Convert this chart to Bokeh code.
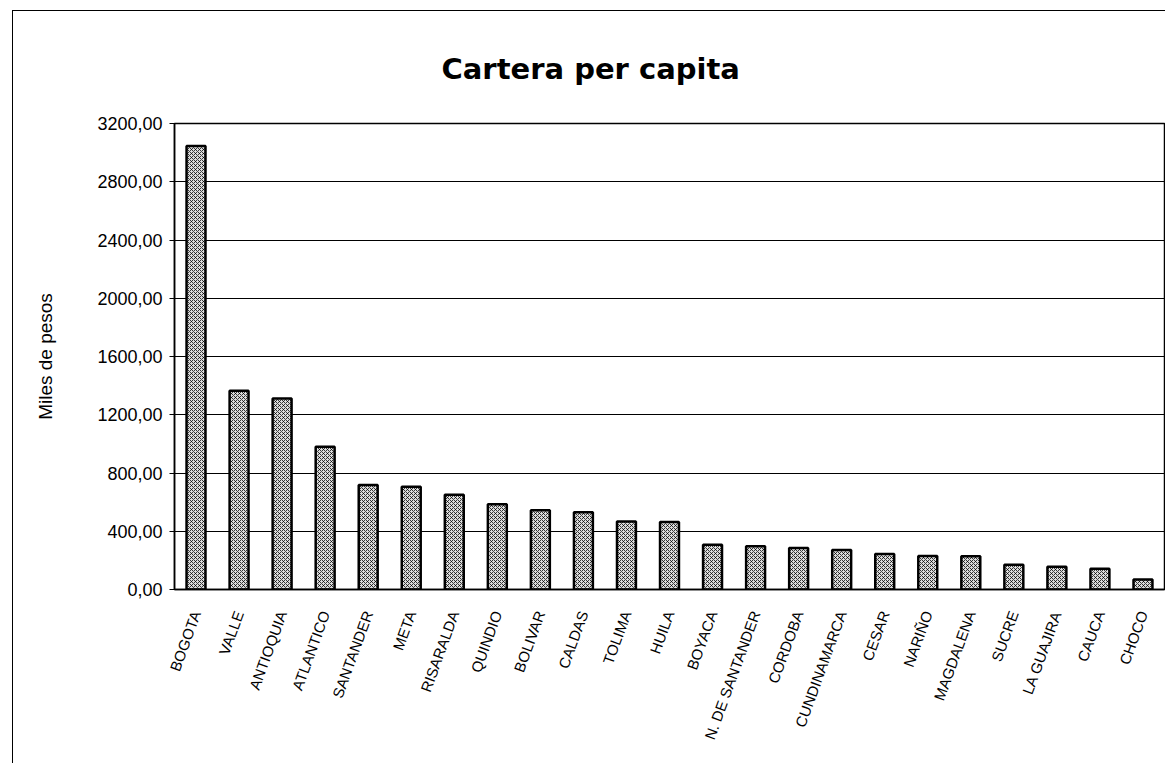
from bokeh.plotting import figure
from bokeh.models import Range1d, FactorRange, SingleIntervalTicker, CustomJSTickFormatter, ColumnDataSource
from bokeh.embed import file_html
from bokeh.resources import INLINE

departamentos = ["BOGOTA", "VALLE", "ANTIOQUIA", "ATLANTICO", "SANTANDER", "META",
                 "RISARALDA", "QUINDIO", "BOLIVAR", "CALDAS", "TOLIMA", "HUILA",
                 "BOYACA", "N. DE SANTANDER", "CORDOBA", "CUNDINAMARCA", "CESAR",
                 "NARIÑO", "MAGDALENA", "SUCRE", "LA GUAJIRA", "CAUCA", "CHOCO"]
cartera = [3045, 1365, 1312, 980, 717, 706, 650, 586, 545, 531, 467, 464,
           308, 297, 285, 271, 243, 230, 228, 170, 157, 143, 69]

titulo = "Cartera per capita"
eje_y = "Miles de pesos"

src = ColumnDataSource(dict(x=departamentos, top=cartera))

p = figure(width=1153, height=753, output_backend="svg", toolbar_location=None,
           x_range=FactorRange(*departamentos), y_range=Range1d(0, 3200),
           title=titulo, min_border_left=161, min_border_top=112,
           min_border_right=2, min_border_bottom=175)
p.margin = (10, 0, 0, 12)

p.vbar(x="x", top="top", width=0.44, source=src,
       fill_color="#dcdcdc", line_color="black", line_width=2.5,
       hatch_pattern="diagonal_cross", hatch_color="black", hatch_scale=4,
       hatch_weight=1, hatch_alpha=0.75)

p.title.text_font = "DejaVu Sans"
p.title.text_font_style = "bold"
p.title.text_font_size = "29px"
p.title.text_color = "black"
p.title.align = "left"
p.title.standoff = 76
p.title.offset = 267

p.outline_line_color = "black"
p.outline_line_width = 1.5

p.yaxis.ticker = SingleIntervalTicker(interval=400)
p.yaxis.formatter = CustomJSTickFormatter(code="return tick.toFixed(2).replace('.', ',');")
p.yaxis.major_label_text_font = "Liberation Sans"
p.yaxis.major_label_text_font_size = "18px"
p.yaxis.major_label_text_color = "black"
p.yaxis.major_tick_out = 5
p.yaxis.major_tick_in = 0
p.yaxis.minor_tick_line_color = None
p.yaxis.major_label_standoff = 7
p.yaxis.axis_line_color = "black"
p.yaxis.axis_line_width = 1.5
p.yaxis.axis_label = eje_y
p.yaxis.axis_label_text_font = "Liberation Sans"
p.yaxis.axis_label_text_font_size = "19px"
p.yaxis.axis_label_text_font_style = "normal"
p.yaxis.axis_label_text_color = "black"
p.yaxis.axis_label_standoff = 38

p.xaxis.major_label_orientation = 1.22
p.xaxis.major_label_text_font = "Liberation Sans"
p.xaxis.major_label_text_font_size = "15px"
p.xaxis.major_label_text_color = "black"
p.xaxis.major_label_standoff = 16
p.xaxis.major_tick_line_color = None
p.xaxis.axis_line_color = "black"
p.xaxis.axis_line_width = 1.5

p.xgrid.grid_line_color = None
p.ygrid.grid_line_color = "black"
p.ygrid.grid_line_width = 1

p.styles = {"border-top": "1.5px solid black", "border-left": "1.5px solid black"}

open("out.html", "w").write(file_html(p, INLINE))
